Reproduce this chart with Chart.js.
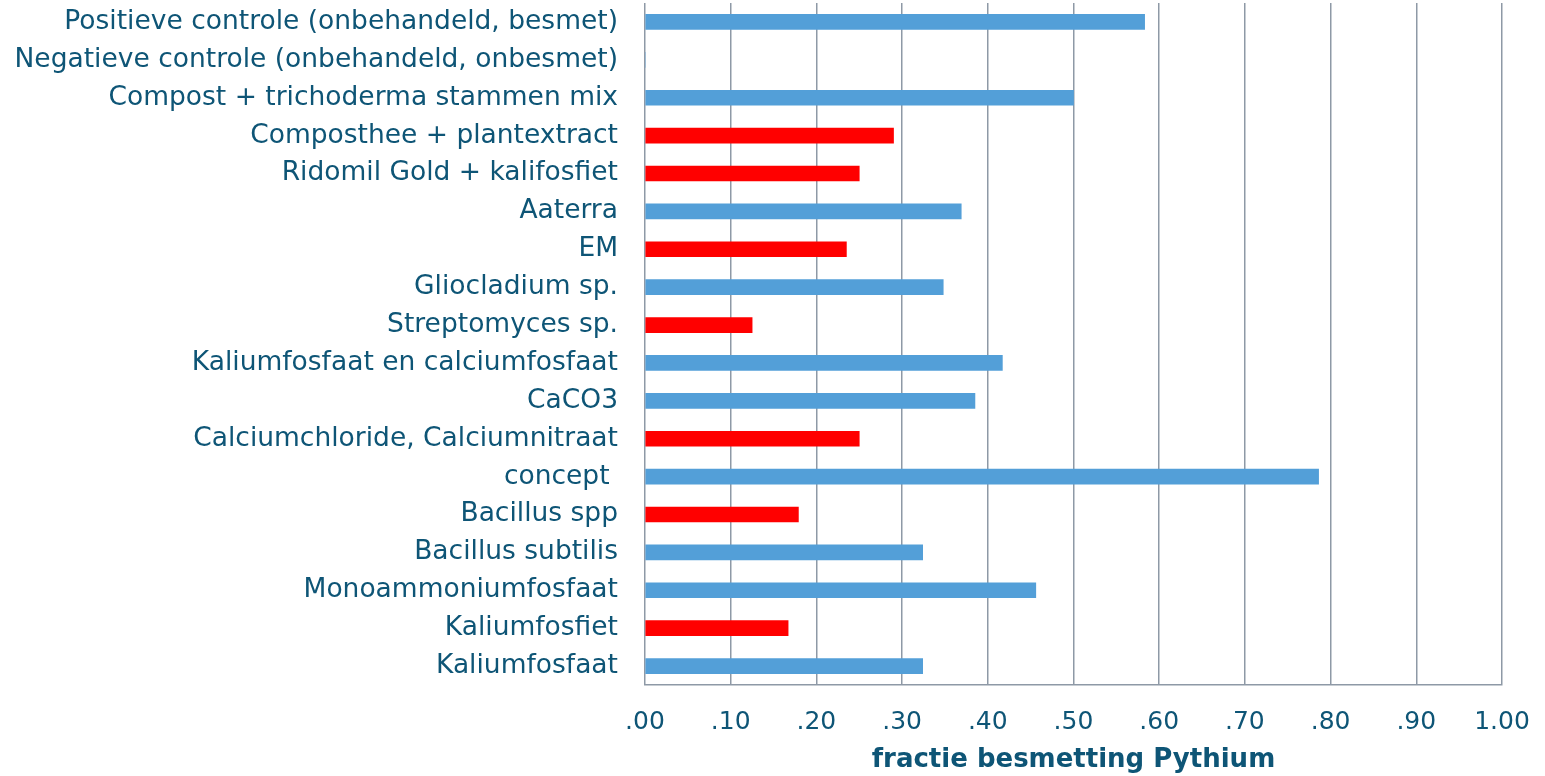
<!DOCTYPE html>
<html>
<head>
<meta charset="utf-8">
<script src="https://cdn.jsdelivr.net/npm/chart.js@4"></script>
<style>
  html, body { margin: 0; padding: 0; background: #fff; }
  #wrap { width: 1545px; height: 776px; }
</style>
</head>
<body>
<div id="wrap"><canvas id="barChart"></canvas></div>
<script>
// categorieen (van boven naar beneden)
const categories = [
  'Positieve controle (onbehandeld, besmet)',
  'Negatieve controle (onbehandeld, onbesmet)',
  'Compost + trichoderma stammen mix',
  'Composthee + plantextract',
  'Ridomil Gold + kalifosfiet',
  'Aaterra',
  'EM',
  'Gliocladium sp.',
  'Streptomyces sp.',
  'Kaliumfosfaat en calciumfosfaat',
  'CaCO3',
  'Calciumchloride, Calciumnitraat',
  'concept ',
  'Bacillus spp',
  'Bacillus subtilis',
  'Monoammoniumfosfaat',
  'Kaliumfosfiet',
  'Kaliumfosfaat'
];

// fractie besmetting Pythium
const values = [0.583, 0, 0.50, 0.29, 0.25, 0.369, 0.235, 0.348, 0.125,
                0.417, 0.385, 0.25, 0.786, 0.179, 0.324, 0.456, 0.167, 0.324];

// behandelingen die rood getoond worden
const redItems = ['Composthee + plantextract', 'Ridomil Gold + kalifosfiet', 'EM',
                  'Streptomyces sp.', 'Calciumchloride, Calciumnitraat',
                  'Bacillus spp', 'Kaliumfosfiet'];

const xTicks = [0, 0.1, 0.2, 0.3, 0.4, 0.5, 0.6, 0.7, 0.8, 0.9, 1.0];

const textColor = '#0E5576';
const gridColor = '#8E99A6';

const barColors = categories.map(c => redItems.includes(c) ? '#FF0000' : '#539FD8');

const ctxt = document.getElementById('barChart').getContext('2d');

new Chart(ctxt, {
  type: 'bar',
  data: {
    labels: categories,
    datasets: [{
      label: 'fractie besmetting Pythium',
      data: values,
      backgroundColor: barColors,
      borderWidth: 0,
      barThickness: 15
    }]
  },
  options: {
    indexAxis: 'y',
    responsive: true,
    maintainAspectRatio: false,
    animation: false,
    layout: { padding: { top: 3, right: 43, left: 0, bottom: 0 } },
    plugins: {
      legend: { display: false },
      tooltip: { enabled: false }
    },
    scales: {
      x: {
        min: 0,
        max: 1,
        afterBuildTicks: (scale) => { scale.ticks = xTicks.map(v => ({ value: v })); },
        afterFit: (scale) => {
          scale.height = 91;
          scale.paddingLeft = 0;
          scale.paddingRight = 0;
        },
        ticks: {
          color: textColor,
          font: { family: 'DejaVu Sans', size: 25 },
          padding: 22,
          maxRotation: 0,
          callback: (v) => v >= 1 ? '1.00' : v.toFixed(2).replace(/^0/, '')
        },
        grid: {
          color: gridColor,
          lineWidth: 1.5,
          drawTicks: false
        },
        border: { color: gridColor, width: 1.5 },
        title: {
          display: true,
          text: 'fractie besmetting Pythium',
          color: textColor,
          font: { family: 'DejaVu Sans', size: 26, weight: 'bold' },
          padding: { top: 3, bottom: 0 }
        }
      },
      y: {
        afterFit: (scale) => {
          scale.width = 645;
          scale.paddingTop = 0;
          scale.paddingBottom = 0;
        },
        ticks: {
          color: textColor,
          font: { family: 'DejaVu Sans', size: 26.5 },
          padding: 27
        },
        grid: { display: false, drawTicks: false },
        border: { display: false }
      }
    }
  }
});
</script>
</body>
</html>
